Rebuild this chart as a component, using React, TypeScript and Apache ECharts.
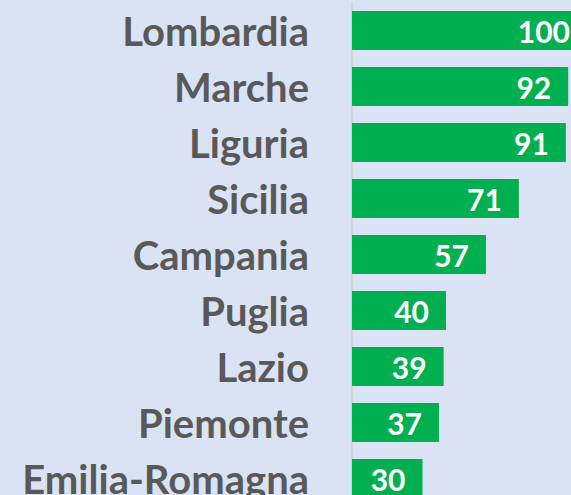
import React, { useEffect, useRef } from "react";
import * as echarts from "echarts";

const categories = ["Lombardia", "Marche", "Liguria", "Sicilia", "Campania", "Puglia", "Lazio", "Piemonte", "Emilia-Romagna"];
const values = [100, 92, 91, 71, 57, 40, 39, 37, 30];

export default function App() {
  const ref = useRef<HTMLDivElement>(null);
  useEffect(() => {
    const chart = echarts.init(ref.current!, null, { renderer: "svg" });
    chart.setOption({
      animation: false,
      backgroundColor: "#DAE3F3",
      grid: { left: 352, width: 235, top: 2.5, height: 504, containLabel: false, outerBoundsMode: "none" },
      xAxis: { type: "value", min: 0, max: 100, show: false },
      yAxis: {
        type: "category",
        data: categories,
        inverse: true,
        axisLine: { show: true, lineStyle: { color: "#D0D0D0", width: 1.5 } },
        axisTick: { show: false },
        axisLabel: {
          margin: 43,
          color: "#595959",
          fontFamily: "Lato",
          fontWeight: "bold",
          fontSize: 40,
        },
      },
      series: [
        {
          type: "bar",
          data: values,
          barWidth: 39,
          itemStyle: { color: "#00B050" },
          label: {
            show: true,
            position: "insideRight",
            distance: 17,
            color: "#FFFFFF",
            fontFamily: "Lato",
            fontWeight: "bold",
            fontSize: 30,
          },
        },
      ],
    });
    return () => chart.dispose();
  }, []);
  return <div ref={ref} style={{ position: "fixed", left: 0, top: 0, width: 571, height: 495 }} />;
}
